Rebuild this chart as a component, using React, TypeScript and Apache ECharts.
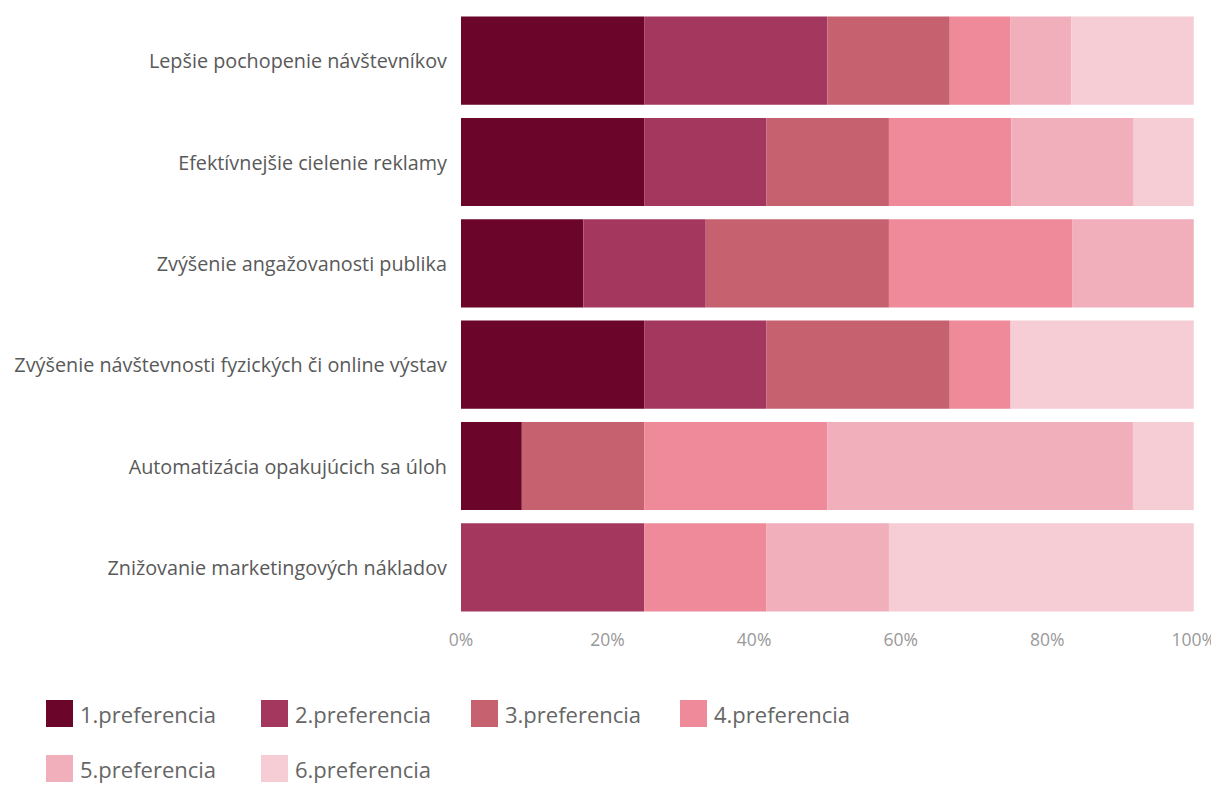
import React, { useEffect, useRef } from "react";
import * as echarts from "echarts";

const categories = [
  "Lepšie pochopenie návštevníkov",
  "Efektívnejšie cielenie reklamy",
  "Zvýšenie angažovanosti publika",
  "Zvýšenie návštevnosti fyzických či online výstav",
  "Automatizácia opakujúcich sa úloh",
  "Znižovanie marketingových nákladov",
];

const seriesNames = [
  "1.preferencia",
  "2.preferencia",
  "3.preferencia",
  "4.preferencia",
  "5.preferencia",
  "6.preferencia",
];

const pref1 = [25, 25, 16.7, 25, 8.3, 0];
const pref2 = [25, 16.7, 16.7, 16.7, 0, 25];
const pref3 = [16.7, 16.7, 25, 25, 16.7, 0];
const pref4 = [8.3, 16.7, 25, 8.3, 25, 16.7];
const pref5 = [8.3, 16.7, 16.7, 0, 41.7, 16.7];
const pref6 = [16.7, 8.3, 0, 25, 8.3, 41.7];

const seriesValues = [pref1, pref2, pref3, pref4, pref5, pref6];

const xTicks = [0, 20, 40, 60, 80, 100];

const colors = ["#6b0529", "#a3375e", "#c66170", "#ef8a9b", "#f1aebb", "#f6ccd5"];

const FONT = "'Open Sans', sans-serif";

const legendPos = [
  { left: 46, top: 700 },
  { left: 261, top: 700 },
  { left: 471, top: 700 },
  { left: 680, top: 700 },
  { left: 46, top: 755 },
  { left: 261, top: 755 },
];

export default function App() {
  const ref = useRef<HTMLDivElement>(null);
  useEffect(() => {
    if (!ref.current) return;
    const chart = echarts.init(ref.current, undefined, { renderer: "svg" });
    chart.setOption({
      animation: false,
      color: colors,
      textStyle: { fontFamily: FONT },
      grid: { left: 461, right: 25, top: 10, bottom: 173, containLabel: false },
      legend: seriesNames.map((n, i) => ({
        data: [n],
        left: legendPos[i].left,
        top: legendPos[i].top,
        padding: 0,
        icon: "rect",
        itemWidth: 27,
        itemHeight: 27,
        itemGap: 10,
        textStyle: { fontSize: 22, color: "#666666", fontFamily: FONT, padding: [0, 0, 0, 2] },
        selectedMode: false,
      })),
      xAxis: {
        type: "value",
        min: 0,
        max: 100,
        interval: 20,
        axisLine: { show: false },
        axisTick: { show: false },
        splitLine: { show: false },
        axisLabel: {
          color: "#999999",
          fontSize: 17.5,
          margin: 12,
          formatter: (v: number) => (xTicks.includes(v) ? v + "%" : ""),
        },
      },
      yAxis: {
        type: "category",
        data: categories,
        inverse: true,
        axisLine: { show: false },
        axisTick: { show: false },
        axisLabel: { color: "#595959", fontSize: 19.8, margin: 14 },
      },
      series: seriesNames.map((n, i) => ({
        name: n,
        type: "bar",
        stack: "total",
        barCategoryGap: "13%",
        data: seriesValues[i],
        itemStyle: { color: colors[i] },
      })),
    });
    return () => chart.dispose();
  }, []);
  return <div ref={ref} style={{ width: 1219, height: 791, margin: -8 }} />;
}
